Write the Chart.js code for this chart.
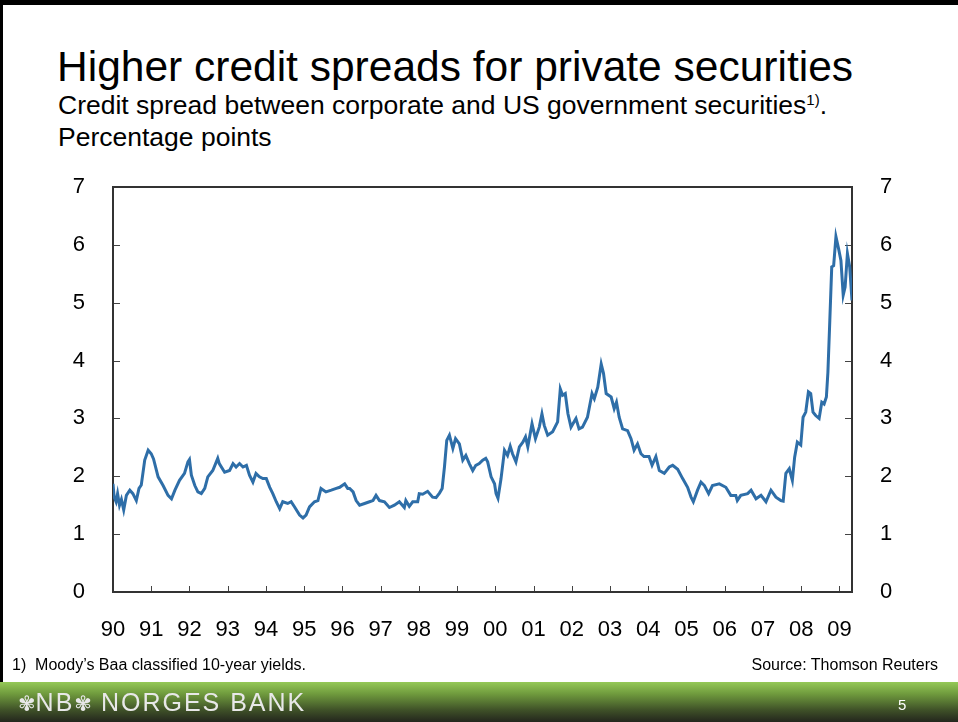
<!DOCTYPE html>
<html lang="en">
<head>
<meta charset="UTF-8">
<title>Higher credit spreads for private securities</title>
<script src="https://cdn.jsdelivr.net/npm/chart.js"></script>
<style>
    body {
        margin: 0;
        width: 958px;
        height: 722px;
        overflow: hidden;
        position: relative;
        background: #fff;
        font-family: "Liberation Sans", Arial, sans-serif;
        color: #000;
    }
    .edge-top { position: absolute; left: 0; top: 0; width: 958px; height: 5px; background: #000; }
    .edge-left { position: absolute; left: 0; top: 0; width: 3px; height: 722px; background: #000; }
    #chart { position: absolute; left: 0; top: 0; }
    .title {
        position: absolute; left: 57px; top: 45px;
        font-size: 42.5px; line-height: 43px; white-space: nowrap;
    }
    .subtitle {
        position: absolute; left: 58px; top: 89px;
        font-size: 26.5px; line-height: 32px; white-space: nowrap;
    }
    .subtitle sup { font-size: 15px; vertical-align: 9px; line-height: 0; }
    .note {
        position: absolute; top: 656px;
        font-size: 16px; line-height: 18px; white-space: nowrap;
    }
    .footer {
        position: absolute; left: 0; top: 682px; width: 958px; height: 40px;
        background: linear-gradient(to bottom, #95c957 0%, #6f9a3d 30%, #3f5128 70%, #23261d 100%);
    }
    .footer .logo {
        position: absolute; left: 18px; top: 7px;
        color: #e8e8e8; font-size: 25px; line-height: 26px; letter-spacing: 2px; white-space: nowrap;
    }
    .footer .logo .mark { font-family: "DejaVu Sans", sans-serif; font-size: 21px; letter-spacing: 0; }
    .footer .page {
        position: absolute; left: 898px; top: 15px;
        color: #fff; font-size: 15px; line-height: 16px;
    }
</style>
</head>
<body>
<div class="edge-top"></div>
<div class="edge-left"></div>

<div class="title">Higher credit spreads for private securities</div>
<div class="subtitle">Credit spread between corporate and US government securities<sup>1)</sup>.<br>Percentage points</div>

<canvas id="chart" width="958" height="722"></canvas>

<div class="note" style="left:12px;">1)&nbsp; Moody’s Baa classified 10-year yields.</div>
<div class="note" style="right:20px;">Source: Thomson Reuters</div>

<div class="footer">
    <div class="logo"><span class="mark">✾</span>NB<span class="mark">✾</span> NORGES BANK</div>
    <div class="page">5</div>
</div>

<script>
    // observation dates (decimal years) and spread in percentage points
    const dates = [
        1990.00, 1990.03, 1990.08, 1990.12, 1990.17, 1990.22, 1990.28, 1990.35, 1990.44, 1990.52, 1990.61, 1990.68, 1990.74, 1990.83, 1990.92,
        1991.00, 1991.06, 1991.18, 1991.31, 1991.44, 1991.53, 1991.62, 1991.74, 1991.87, 1991.96,
        1992.00, 1992.05, 1992.14, 1992.22, 1992.31, 1992.40, 1992.48, 1992.61, 1992.74, 1992.78, 1992.92,
        1993.05, 1993.14, 1993.22, 1993.31, 1993.40, 1993.49, 1993.57, 1993.66, 1993.74, 1993.83, 1993.92,
        1994.01, 1994.10, 1994.18, 1994.27, 1994.36, 1994.44, 1994.57, 1994.66, 1994.75, 1994.88, 1994.97,
        1995.05, 1995.14, 1995.27, 1995.36, 1995.44, 1995.57, 1995.71, 1995.84, 1995.93,
        1996.06, 1996.14, 1996.19, 1996.28, 1996.36, 1996.45, 1996.58, 1996.71, 1996.80, 1996.88, 1996.97,
        1997.10, 1997.23, 1997.36, 1997.49, 1997.62, 1997.66, 1997.75, 1997.84, 1997.97,
        1998.01, 1998.10, 1998.23, 1998.36, 1998.45, 1998.54, 1998.61, 1998.67, 1998.73, 1998.80, 1998.89, 1998.96,
        1999.06, 1999.15, 1999.23, 1999.32, 1999.41, 1999.49, 1999.58, 1999.67, 1999.75, 1999.80, 1999.89, 1999.98,
        2000.02, 2000.07, 2000.15, 2000.24, 2000.32, 2000.39, 2000.45, 2000.54, 2000.63, 2000.72, 2000.79, 2000.85, 2000.96,
        2001.05, 2001.15, 2001.22, 2001.28, 2001.37, 2001.50, 2001.63, 2001.70, 2001.76, 2001.83, 2001.90, 2001.98,
        2002.11, 2002.19, 2002.28, 2002.41, 2002.53, 2002.59, 2002.68, 2002.77, 2002.83, 2002.90,
        2003.03, 2003.11, 2003.17, 2003.24, 2003.33, 2003.46, 2003.55, 2003.63, 2003.72, 2003.81, 2003.89,
        2004.02, 2004.10, 2004.20, 2004.29, 2004.42, 2004.55, 2004.64, 2004.77, 2004.90,
        2005.03, 2005.12, 2005.18, 2005.29, 2005.38, 2005.47, 2005.58, 2005.68, 2005.86,
        2006.03, 2006.16, 2006.29, 2006.33, 2006.42, 2006.60, 2006.69, 2006.82, 2006.95,
        2007.08, 2007.21, 2007.34, 2007.47, 2007.53, 2007.60, 2007.69, 2007.77, 2007.83, 2007.90, 2007.99,
        2008.05, 2008.12, 2008.19, 2008.25, 2008.31, 2008.38, 2008.47, 2008.54, 2008.60, 2008.66, 2008.70, 2008.75, 2008.80, 2008.85, 2008.91, 2008.98,
        2009.04, 2009.10, 2009.15, 2009.21, 2009.27, 2009.33
    ];
    const spread = [
        1.87, 1.64, 1.56, 1.70, 1.50, 1.60, 1.42, 1.67, 1.76, 1.70, 1.58, 1.79, 1.85, 2.28, 2.45,
        2.39, 2.30, 1.99, 1.84, 1.67, 1.61, 1.76, 1.93, 2.05, 2.25,
        2.29, 2.02, 1.84, 1.73, 1.70, 1.79, 1.99, 2.10, 2.31, 2.22, 2.07,
        2.10, 2.22, 2.16, 2.22, 2.16, 2.19, 2.02, 1.90, 2.05, 1.99, 1.96,
        1.96, 1.81, 1.70, 1.56, 1.44, 1.56, 1.53, 1.56, 1.47, 1.33, 1.28,
        1.33, 1.47, 1.56, 1.58, 1.79, 1.73, 1.76, 1.79, 1.81,
        1.87, 1.79, 1.79, 1.73, 1.58, 1.50, 1.53, 1.56, 1.58, 1.67, 1.58,
        1.56, 1.46, 1.50, 1.56, 1.46, 1.58, 1.48, 1.56, 1.56,
        1.70, 1.69, 1.74, 1.64, 1.63, 1.71, 1.79, 2.16, 2.62, 2.71, 2.48, 2.65,
        2.56, 2.28, 2.36, 2.22, 2.10, 2.19, 2.22, 2.28, 2.31, 2.25, 1.99, 1.87,
        1.70, 1.62, 1.96, 2.45, 2.36, 2.52, 2.39, 2.25, 2.51, 2.59, 2.68, 2.51, 2.91,
        2.65, 2.85, 3.08, 2.88, 2.71, 2.77, 2.94, 3.51, 3.40, 3.43, 3.08, 2.85,
        3.00, 2.82, 2.85, 3.02, 3.43, 3.34, 3.54, 3.94, 3.78, 3.43,
        3.37, 3.17, 3.28, 3.02, 2.82, 2.79, 2.65, 2.45, 2.56, 2.39, 2.34,
        2.34, 2.19, 2.34, 2.10, 2.05, 2.16, 2.19, 2.12, 1.96,
        1.81, 1.64, 1.56, 1.76, 1.90, 1.84, 1.70, 1.84, 1.87,
        1.81, 1.67, 1.67, 1.58, 1.67, 1.70, 1.76, 1.61, 1.67,
        1.56, 1.76, 1.64, 1.58, 1.57, 2.05, 2.13, 1.93, 2.33, 2.59, 2.54,
        3.02, 3.11, 3.46, 3.43, 3.11, 3.05, 3.00, 3.28, 3.25, 3.37, 3.80, 4.70, 5.62, 5.64, 6.14, 5.93,
        5.73, 5.13, 5.27, 5.85, 5.62, 5.04
    ];
    const yearTicks = [1990, 1991, 1992, 1993, 1994, 1995, 1996, 1997, 1998, 1999,
                       2000, 2001, 2002, 2003, 2004, 2005, 2006, 2007, 2008, 2009];
    const yearLabels = ['90', '91', '92', '93', '94', '95', '96', '97', '98', '99',
                        '00', '01', '02', '03', '04', '05', '06', '07', '08', '09'];
    const xStart = 1990;
    const xEnd = 2009.33;

    const tickFont = { family: '"Liberation Sans", Arial, sans-serif', size: 22 };

    // frame and inward tick marks, placed through the chart's own scales
    const frameTicks = {
        id: 'frameTicks',
        beforeDatasetsDraw(chart) {
            const { ctx, chartArea: a, scales } = chart;
            ctx.save();
            ctx.strokeStyle = '#444';
            ctx.lineWidth = 1;
            ctx.beginPath();
            scales.y.ticks.forEach(t => {
                const py = Math.round(scales.y.getPixelForValue(t.value)) + 0.5;
                ctx.moveTo(a.left, py); ctx.lineTo(a.left + 7, py);
                ctx.moveTo(a.right - 7, py); ctx.lineTo(a.right, py);
            });
            scales.x.ticks.forEach(t => {
                const px = Math.round(scales.x.getPixelForValue(t.value)) + 0.5;
                ctx.moveTo(px, a.bottom); ctx.lineTo(px, a.bottom - 6);
            });
            ctx.stroke();
            ctx.strokeStyle = '#333';
            ctx.lineWidth = 2;
            ctx.strokeRect(a.left, a.top, a.right - a.left, a.bottom - a.top);
            ctx.restore();
        }
    };

    new Chart(document.getElementById('chart'), {
        type: 'line',
        data: {
            datasets: [{
                data: dates.map((d, i) => ({ x: d, y: spread[i] })),
                borderColor: '#2e6ea8',
                borderWidth: 3,
                pointRadius: 0,
                tension: 0,
                fill: false
            }]
        },
        options: {
            responsive: false,
            animation: false,
            layout: { padding: { top: 187, left: 0, right: 0, bottom: 0 } },
            plugins: { legend: { display: false }, tooltip: { enabled: false } },
            scales: {
                x: {
                    type: 'linear',
                    min: xStart,
                    max: xEnd,
                    grid: { display: false },
                    border: { display: false },
                    afterBuildTicks: s => { s.ticks = yearTicks.map(v => ({ value: v })); },
                    afterFit: s => { s.height = 130; },
                    ticks: {
                        autoSkip: false,
                        maxRotation: 0,
                        padding: 17,
                        color: '#000',
                        font: tickFont,
                        callback: v => yearLabels[yearTicks.indexOf(v)]
                    }
                },
                y: {
                    position: 'left',
                    min: 0,
                    max: 7,
                    grid: { display: false },
                    border: { display: false },
                    afterFit: s => { s.width = 113; },
                    ticks: { stepSize: 1, padding: 20, color: '#000', font: tickFont }
                },
                y2: {
                    position: 'right',
                    min: 0,
                    max: 7,
                    grid: { display: false },
                    border: { display: false },
                    afterFit: s => { s.width = 106; },
                    ticks: { stepSize: 1, padding: 20, color: '#000', font: tickFont }
                }
            }
        },
        plugins: [frameTicks]
    });
</script>
</body>
</html>
